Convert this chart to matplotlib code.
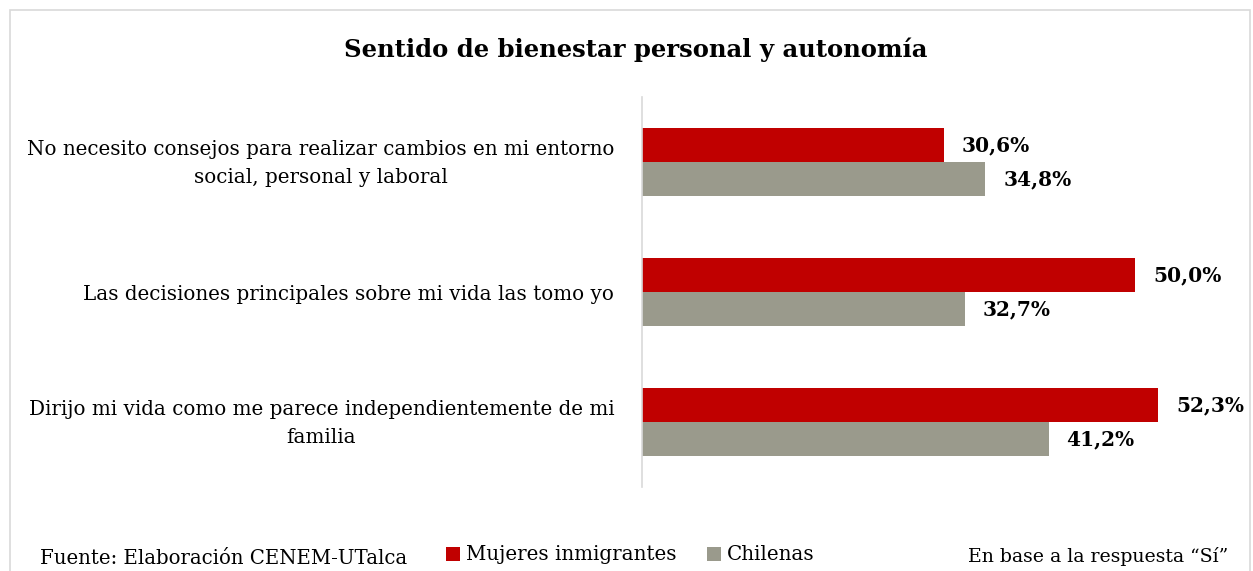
import matplotlib
matplotlib.use("Agg")
import matplotlib.pyplot as plt
import numpy as np
from matplotlib.patches import Rectangle
from matplotlib.transforms import ScaledTranslation

categories = [
    "No necesito consejos para realizar cambios en mi entorno\nsocial, personal y laboral",
    "Las decisiones principales sobre mi vida las tomo yo",
    "Dirijo mi vida como me parece independientemente de mi\nfamilia",
]
mujeres = [30.6, 50.0, 52.3]
chilenas = [34.8, 32.7, 41.2]
series_names = ["Mujeres inmigrantes", "Chilenas"]
title = "Sentido de bienestar personal y autonomía"
source = "Fuente: Elaboración CENEM-UTalca"
note = "En base a la respuesta “Sí”"

RED = "#c00000"
GRAY = "#9a9a8c"
FONT = "DejaVu Serif"

fig = plt.figure(figsize=(12.53, 5.71), dpi=100)
fig.patch.set_facecolor("white")
fig.add_artist(Rectangle((10 / 1253, -0.05), 1240 / 1253, (571 - 10) / 571 + 0.05,
                         transform=fig.transFigure, fill=False, edgecolor="#d9d9d9", lw=1.2))

ax = fig.add_axes([642 / 1253, (571 - 487) / 571, 592 / 1253, 390 / 571])
y = np.arange(len(categories))
h = 0.26
b1 = ax.barh(y - h / 2, mujeres, height=h, color=RED, label=series_names[0])
b2 = ax.barh(y + h / 2, chilenas, height=h, color=GRAY, label=series_names[1])
ax.set_ylim(len(categories) - 0.5, -0.5)
ax.set_xlim(0, 60)

def fmt(v):
    return f"{v:.1f}%".replace(".", ",")

ax.bar_label(b1, labels=[fmt(v) for v in mujeres], padding=13,
             fontfamily=FONT, fontsize=14.5, fontweight="bold")
ax.bar_label(b2, labels=[fmt(v) for v in chilenas], padding=13,
             fontfamily=FONT, fontsize=14.5, fontweight="bold")

ax.set_yticks(y)
ax.set_yticklabels(categories, fontfamily=FONT, fontsize=14.3)
ax.tick_params(axis="y", length=0, pad=20)
shift = ScaledTranslation(0, 5 / 100, fig.dpi_scale_trans)
for t in ax.get_yticklabels():
    t.set_multialignment("center")
    t.set_linespacing(1.6)
    if "\n" in t.get_text():
        t.set_transform(t.get_transform() + shift)
ax.set_xticks([])
for s in ["top", "right", "bottom"]:
    ax.spines[s].set_visible(False)
ax.spines["left"].set_color("#d9d9d9")
ax.spines["left"].set_linewidth(1.2)

fig.text(636 / 1253, 1 - 50 / 571, title, ha="center", va="center",
         fontfamily=FONT, fontsize=17.5, fontweight="bold")

fig.text(40 / 1253, 1 - 558 / 571, source, ha="left", va="center",
         fontfamily=FONT, fontsize=14.2)
fig.text(1228 / 1253, 1 - 556 / 571, note, ha="right", va="center",
         fontfamily=FONT, fontsize=13.6)

leg = fig.legend(handles=[b1, b2], labels=series_names, loc="center left",
                 bbox_to_anchor=(446 / 1253, 1 - 555 / 571), ncol=2, frameon=False,
                 prop={"family": FONT, "size": 14.3}, handlelength=0.7, handleheight=0.7,
                 handletextpad=0.3, columnspacing=1.55, borderaxespad=0, borderpad=0)

fig.savefig("out.png", dpi=100)
